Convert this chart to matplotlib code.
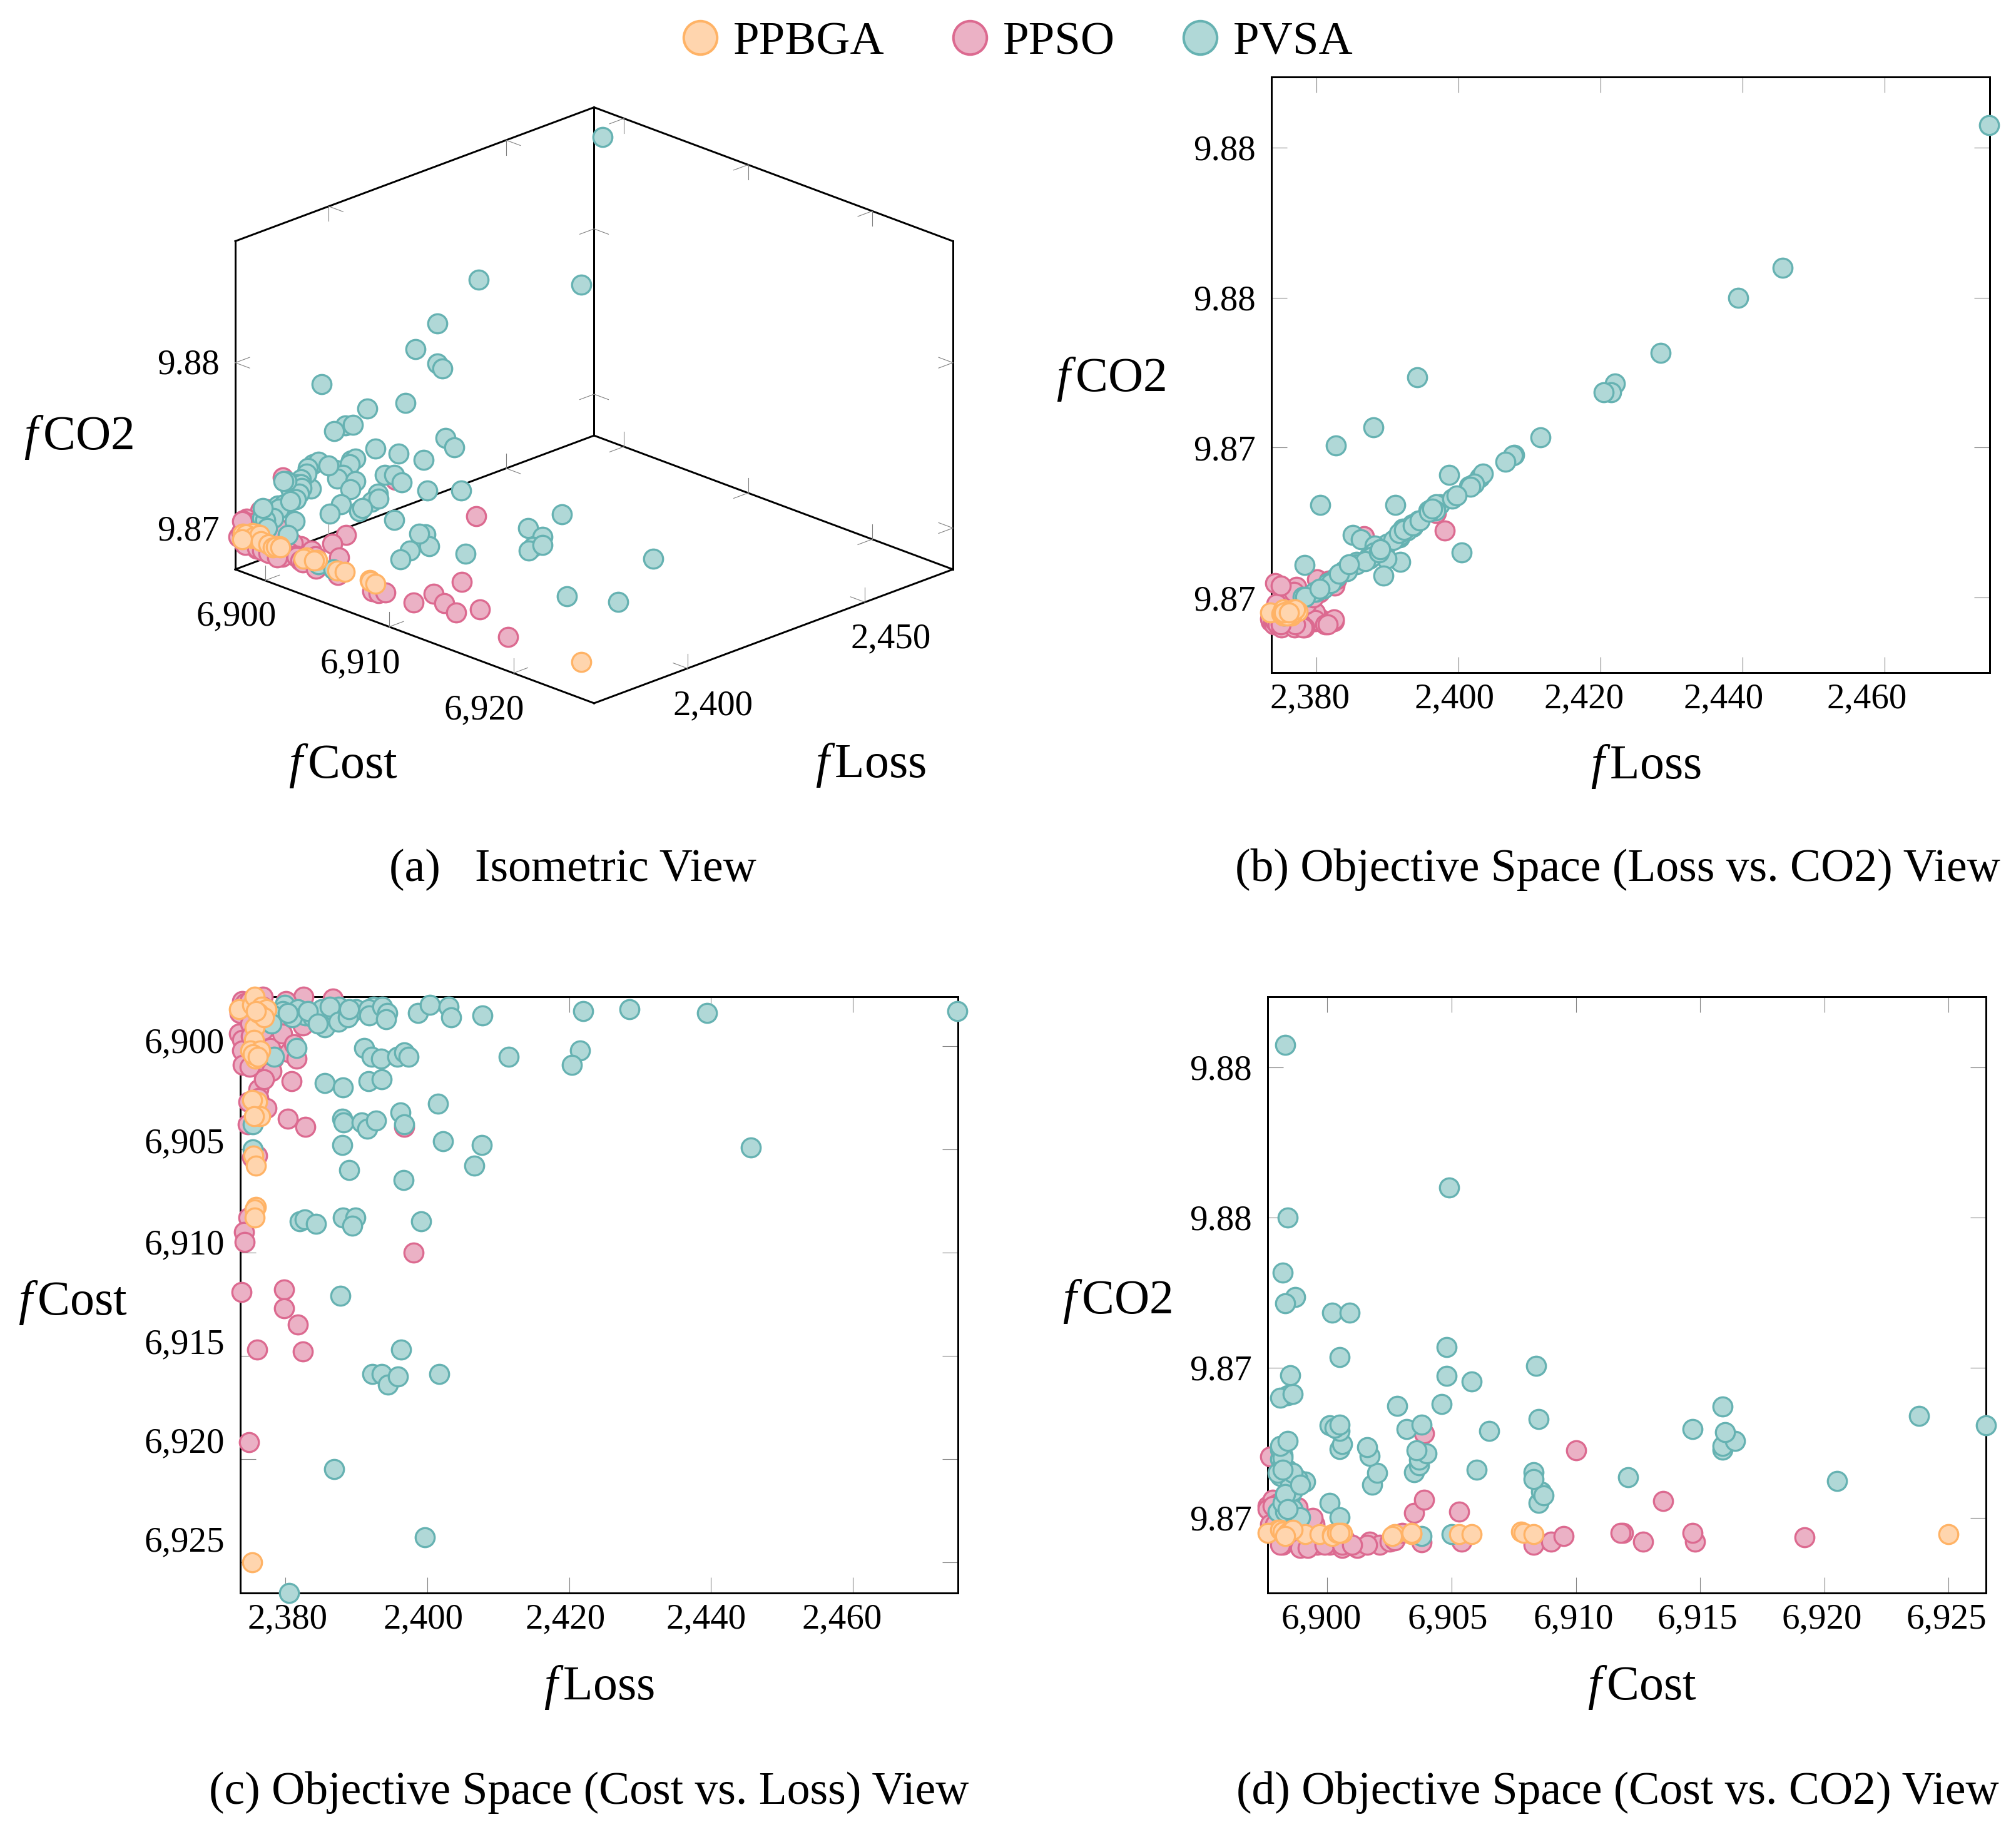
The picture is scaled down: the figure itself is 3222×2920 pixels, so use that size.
import matplotlib
matplotlib.use("Agg")
import matplotlib.pyplot as plt
from matplotlib.lines import Line2D
from matplotlib.transforms import ScaledTranslation
from mpl_toolkits.mplot3d import proj3d
import numpy as np

plt.rcParams['font.family'] = ['Liberation Serif', 'DejaVu Serif']
plt.rcParams['mathtext.fontset'] = 'custom'
plt.rcParams['mathtext.rm'] = 'Liberation Serif'
plt.rcParams['mathtext.it'] = 'Liberation Serif:italic'

# Data: (loss, cost, co2)
pvsa_loss = [2379.9,2379.7,2381.8,2382.8,2381.0,2383.9,2385.1,2387.5,2386.3,2385.6,2387.5,2389.3,2390.0,2392.4,2391.7,2391.8,2393.7,2394.4,2394.2,2378.3,2378.1,
             2398.7,2400.4,2403.0,2403.4,2407.8,2411.5,2391.1,2392.2,2393.5,2395.8,2396.8,2397.4,2381.6,2378.4,2385.6,2388.1,2391.7,2393.6,2401.5,
             2388.0,2388.2,2390.8,2391.6,2392.8,2396.2,2396.8,2375.4,2375.4,2388.0,2402.2,2407.7,2406.6,2389.0,2396.7,2382.0,2382.7,2384.3,2388.1,2389.9,2389.4,2399.1,
             2392.3,2393.6,2394.5,2395.9,2396.3,2401.7,2387.8,2386.9,2399.7,2380.5,2445.6,2439.4,2428.5,2422.0,2421.5,2420.4,2474.7,
             2383.2,2388.8,2384.6,2380.4,2389.0]
pvsa_cost = [6898.0,6898.3,6898.2,6898.5,6898.6,6898.6,6898.2,6898.1,6898.1,6899.1,6898.8,6898.4,6898.2,6898.1,6898.2,6898.5,6898.1,6898.4,6898.7,6898.5,6898.9,
             6898.4,6898.0,6898.1,6898.6,6898.5,6900.5,6900.1,6900.5,6900.6,6900.5,6900.3,6900.5,6900.1,6900.5,6901.8,6902.0,6901.7,6901.6,6902.8,
             6903.5,6903.7,6903.7,6904.0,6903.6,6903.2,6903.8,6903.8,6905.0,6904.8,6904.6,6904.8,6905.8,6906.0,6906.5,6908.5,6908.4,6908.6,6908.3,6908.3,6908.7,6908.5,
             6915.9,6915.9,6916.4,6916.0,6914.7,6915.9,6912.1,6920.5,6923.8,6926.5,6904.9,6898.4,6898.2,6898.3,6900.2,6900.9,6898.3,
             6898.3,6898.6,6898.9,6898.4,6898.2]
pvsa_co2 = [9.8702,9.8702,9.8705,9.8707,9.8703,9.8709,9.87208,9.8714,9.87195,9.8712,9.8713,9.8716,9.8718,9.87226,9.8720,9.8712,9.8724,9.87256,9.87735,9.87108,9.87002,
            9.87408,9.8715,9.8740,9.87413,9.87475,9.87535,9.87308,9.8723,9.87245,9.8729,9.8730,9.8731,9.87049,9.87002,9.8711,9.8715,9.87206,9.87236,9.87372,
            9.87153,9.87174,9.87193,9.87214,9.87224,9.87296,9.8731,9.8694,9.86945,9.87568,9.8738,9.87473,9.87453,9.87161,9.8729,9.87049,9.87507,9.87088,9.87151,9.8713,9.87074,9.8733,
            9.87226,9.8724,9.87256,9.87285,9.87296,9.8737,9.87136,9.87122,9.8734,9.87308,9.8810,9.8800,9.87816,9.87714,9.87684,9.87684,9.88575,
            9.8708,9.8715,9.8711,9.8703,9.8716]

ppso_loss = [2382.6,2380.1,2386.7,2373.9,2376.8,2375.5,2373.6,2379.2,2373.5,2373.9,2376.5,2373.9,2374.0,2380.5,2380.9,2376.2,2376.2,2374.8,2377.4,2374.7,2380.4,2382.8,2396.8,
             2375.3,2376.0,2374.8,2374.2,2374.3,2398.1,2373.8,2379.8,2379.8,2381.8,2382.5,2376.0,2374.9,2374.2,2377.2,2375.8,2379.8,2382.5,
             2374.5,2375.1,2376.9,2377.9,2378.3,2375.2,2376.1,2374.4,2377.4,2378.6,2379.6,2381.2,2381.6,2378.1,2377.0,2375.0,2376.8,2375.0]
ppso_cost = [6897.6,6897.8,6897.7,6897.8,6897.6,6897.7,6898.4,6899.0,6899.4,6899.7,6899.6,6900.2,6900.9,6900.3,6901.7,6902.1,6902.5,6902.7,6903.0,6903.8,6903.5,6903.9,6903.9,
             6905.4,6905.3,6908.3,6909.0,6909.5,6910.0,6911.9,6911.8,6912.7,6913.5,6914.8,6914.7,6919.2,6898.0,6898.8,6898.2,6898.5,6899.0,
             6898.1,6898.9,6899.2,6900.1,6900.6,6899.5,6900.7,6897.9,6898.3,6898.9,6899.4,6899.9,6900.6,6901.2,6901.6,6901.0,6898.1,6897.8]
ppso_co2 = [9.8704,9.8706,9.87205,9.8695,9.8703,9.8698,9.8692,9.8695,9.8693,9.8692,9.8691,9.8692,9.8691,9.8693,9.8692,9.8691,9.8692,9.86925,9.8695,9.86918,9.87016,9.87061,9.87282,
            9.8692,9.8702,9.8691,9.8692,9.8694,9.87224,9.8695,9.8695,9.8692,9.87056,9.8692,9.8695,9.86935,9.87048,9.87035,9.8691,9.86926,9.86928,
            9.8691,9.8690,9.8690,9.8691,9.8690,9.8698,9.8693,9.8698,9.8696,9.8698,9.8700,9.8691,9.8691,9.8690,9.8691,9.8691,9.8702,9.8704]

ppbga_loss = [2373.5,2375.3,2375.7,2376.7,2377.4,2375.7,2375.6,2375.1,2376.5,2375.8,2376.0,2375.3,2376.5,2375.6,2375.5,2375.9,2375.9,2375.7,2375.7,2375.3,
              2376.2,2377.0,2375.9,2375.4,2376.1]
ppbga_cost = [6898.2,6898.0,6897.6,6898.1,6898.2,6899.1,6899.7,6900.2,6900.2,6900.6,6902.7,6902.6,6903.4,6903.4,6905.3,6905.8,6907.8,6907.9,6908.3,6925.0,
              6898.4,6898.6,6898.3,6900.4,6900.5]
ppbga_co2 = [9.8695,9.8696,9.8695,9.8696,9.86954,9.86945,9.86945,9.86945,9.8694,9.8695,9.86945,9.8694,9.86945,9.8695,9.86945,9.86945,9.86955,9.8695,9.86945,9.86945,
             9.8695,9.8696,9.8694,9.8695,9.8695]

series_names = ['PPSO', 'PVSA', 'PPBGA']
series_loss = [ppso_loss, pvsa_loss, ppbga_loss]
series_cost = [ppso_cost, pvsa_cost, ppbga_cost]
series_co2 = [ppso_co2, pvsa_co2, ppbga_co2]
face = {'PPBGA': '#FFD5AE', 'PPSO': '#EBB1C5', 'PVSA': '#B0D8D7'}
edge = {'PPBGA': '#FFB366', 'PPSO': '#DC6A90', 'PVSA': '#66B2B2'}

loss_lim = (2373.66, 2474.8)
cost_lim = (6897.6, 6926.5)
co2_lim = (9.8675, 9.88735)
loss_ticks = [2380, 2400, 2420, 2440, 2460]
loss_labels = ['2,380', '2,400', '2,420', '2,440', '2,460']
cost_ticks = [6900, 6905, 6910, 6915, 6920, 6925]
cost_labels = ['6,900', '6,905', '6,910', '6,915', '6,920', '6,925']
co2_ticks = [9.87, 9.875, 9.88, 9.885]
co2_labels = ['9.87', '9.87', '9.88', '9.88']

W, H, DPI = 3222, 2920, 100
fig = plt.figure(figsize=(W / DPI, H / DPI), dpi=DPI)
TICK_FS, LABEL_FS, CAP_FS = 41, 56, 53
S, LW = 480, 2.4


def axes_px(x0, y0, x1, y1, **kw):
    return fig.add_axes([x0 / W, 1 - y1 / H, (x1 - x0) / W, (y1 - y0) / H], **kw)


def ftext(x, y, s, size, **kw):
    fig.text(x / W, 1 - y / H, s, fontsize=size, ha='center', va='center', **kw)


def nudge(labels, dx=None, dy=None):
    for i, lab in enumerate(labels):
        ox = dx[i] if dx else 0
        oy = dy[i] if dy else 0
        lab.set_transform(lab.get_transform() + ScaledTranslation(ox / DPI, -oy / DPI, fig.dpi_scale_trans))


def panel(rect, xs, ys, xlim, ylim, xt, xl, yt, yl, invert=False):
    ax = axes_px(*rect)
    for name, x, y in zip(series_names, xs, ys):
        ax.scatter(x, y, s=S, facecolor=face[name], edgecolor=edge[name], linewidth=LW,
                   clip_on=False, zorder=3 + series_names.index(name))
    ax.set_xlim(*xlim)
    ax.set_ylim(*(ylim[::-1] if invert else ylim))
    ax.set_xticks(xt, xl)
    ax.set_yticks(yt, yl)
    ax.tick_params(axis='both', direction='in', length=18, width=0.8, color='#808080',
                   top=True, right=True, labelsize=TICK_FS)
    ax.tick_params(axis='x', pad=12)
    ax.tick_params(axis='y', pad=18)
    for sp in ax.spines.values():
        sp.set_linewidth(2.16)
    return ax


ax_b = panel((2032, 123, 3180, 1075), series_loss, series_co2, loss_lim, co2_lim, loss_ticks, loss_labels, co2_ticks, co2_labels)
nudge(ax_b.get_xticklabels(), dx=[-10, -6, -26, -30, -28])
ax_c = panel((384, 1593, 1531, 2546), series_loss, series_cost, loss_lim, cost_lim, loss_ticks, loss_labels, cost_ticks, cost_labels, invert=True)
nudge(ax_c.get_xticklabels(), dx=[4, -6, -6, -8, -18])
nudge(ax_c.get_yticklabels(), dy=[-10, -15, -18, -23, -30, -37])
ax_d = panel((2026, 1593, 3174, 2546), series_cost, series_co2, cost_lim, co2_lim, cost_ticks, cost_labels, co2_ticks, co2_labels)
nudge(ax_d.get_xticklabels(), dx=[-10, -6, -4, -4, -4, -4])

# Panel (a): isometric view
ax_a = fig.add_axes([0.05, 0.6, 0.4, 0.4], projection='3d', proj_type='ortho', computed_zorder=False)
ax_a.view_init(elev=21.9, azim=-45, roll=0)
ax_a.set_box_aspect((812, 812, 566))
ax_a.set_axis_off()
ax_a.patch.set_alpha(0)
ax_a.set_xlim(*cost_lim)
ax_a.set_ylim(*loss_lim)
ax_a.set_zlim(*co2_lim)


def box_pt(c, l, z):
    return (cost_lim[0] + c * (cost_lim[1] - cost_lim[0]),
            loss_lim[0] + l * (loss_lim[1] - loss_lim[0]),
            co2_lim[0] + z * (co2_lim[1] - co2_lim[0]))


edges = [((0, 0, 0), (0, 0, 1)), ((0, 1, 0), (0, 1, 1)), ((1, 1, 0), (1, 1, 1)),
         ((0, 0, 0), (1, 0, 0)), ((1, 0, 0), (1, 1, 0)), ((0, 1, 0), (1, 1, 0)), ((0, 0, 0), (0, 1, 0)),
         ((0, 0, 1), (0, 1, 1)), ((0, 1, 1), (1, 1, 1))]
for p, q in edges:
    P, Q = box_pt(*p), box_pt(*q)
    ax_a.plot(*zip(P, Q), color='black', lw=2.16, zorder=1, solid_capstyle='projecting')


def tick3(pos, d1, d2):
    base = np.array(box_pt(*pos))
    for d in (d1, d2):
        end = np.array(box_pt(*(np.array(pos) + np.array(d))))
        ax_a.plot(*zip(base, end), color='#808080', lw=0.8, zorder=2)


tl, tz = 0.04, 0.045


def norm(v, lim):
    return (v - lim[0]) / (lim[1] - lim[0])


for v in [6900, 6910, 6920]:
    c = norm(v, cost_lim)
    tick3((c, 0, 0), (0, tl, 0), (0, 0, tz))
    tick3((c, 1, 0), (0, -tl, 0), (0, 0, tz))
    tick3((c, 1, 1), (0, -tl, 0), (0, 0, -tz))
for v in [2400, 2450]:
    l = norm(v, loss_lim)
    tick3((1, l, 0), (-tl, 0, 0), (0, 0, tz))
    tick3((0, l, 0), (tl, 0, 0), (0, 0, tz))
    tick3((0, l, 1), (tl, 0, 0), (0, 0, -tz))
for v in [9.87, 9.88]:
    z = norm(v, co2_lim)
    tick3((0, 0, z), (tl, 0, 0), (0, tl, 0))
    tick3((0, 1, z), (tl, 0, 0), (0, -tl, 0))
    tick3((1, 1, z), (-tl, 0, 0), (0, -tl, 0))

for name, l, c, z in zip(series_names, series_loss, series_cost, series_co2):
    ax_a.scatter(c, l, z, s=S, facecolor=face[name], edgecolor=edge[name], linewidth=LW,
                 depthshade=False, clip_on=False, zorder=3 + series_names.index(name))


def disp(p):
    X, Y, _ = proj3d.proj_transform(*box_pt(*p), ax_a.get_proj())
    return ax_a.transData.transform((X, Y))


# Fit the 3D box to its place in the figure: left corner and right corner
target_l = np.array([376, H - 910.0])
target_r = np.array([1523, H - 910.0])
for _ in range(4):
    fig.canvas.draw()
    L, R = disp((0, 0, 0)), disp((1, 1, 0))
    pos = ax_a.get_position()
    scale = (target_r[0] - target_l[0]) / (R[0] - L[0])
    w, h = pos.width * scale, pos.height * scale
    cx, cy = pos.x0 + pos.width / 2, pos.y0 + pos.height / 2
    ax_a.set_position([cx - w / 2, cy - h / 2, w, h])
    fig.canvas.draw()
    L = disp((0, 0, 0))
    pos = ax_a.get_position()
    ax_a.set_position([pos.x0 + (target_l[0] - L[0]) / W, pos.y0 + (target_l[1] - L[1]) / H, pos.width, pos.height])

for s, x, y in [('6,900', 378, 985), ('6,910', 576, 1061), ('6,920', 774, 1135),
                ('2,400', 1140, 1128), ('2,450', 1424, 1021), ('9.88', 301, 584), ('9.87', 301, 849)]:
    ftext(x, y, s, TICK_FS)

# Axis labels
FL = r'$f\,$'
ftext(549, 1224, FL + 'Cost', LABEL_FS)
ftext(1392, 1223, FL + 'Loss', LABEL_FS)
ftext(126, 699, FL + 'CO2', LABEL_FS)
ftext(2631, 1225, FL + 'Loss', LABEL_FS)
ftext(1776, 606, FL + 'CO2', LABEL_FS)
ftext(958, 2697, FL + 'Loss', LABEL_FS)
ftext(117, 2082, FL + 'Cost', LABEL_FS)
ftext(2625, 2697, FL + 'Cost', LABEL_FS)
ftext(1786, 2080, FL + 'CO2', LABEL_FS)

# Captions
ftext(915, 1390, '(a)   Isometric View', CAP_FS)
ftext(2585, 1390, '(b) Objective Space (Loss vs. CO2) View', CAP_FS)
ftext(941, 2865, '(c) Objective Space (Cost vs. Loss) View', CAP_FS)
ftext(2585, 2865, '(d) Objective Space (Cost vs. CO2) View', CAP_FS)

# Legend
handles = [Line2D([], [], ls='none', marker='o', ms=38.5, mew=2.9, mfc=face[n], mec=edge[n], label=n)
           for n in ['PPBGA', 'PPSO', 'PVSA']]
fig.legend(handles=handles, loc='center', bbox_to_anchor=(1622 / W, 1 - 68 / H), ncol=3, frameon=False,
           fontsize=54, handletextpad=0.2, columnspacing=1.32, handlelength=1.0, borderpad=0)

fig.savefig('out.png', dpi=DPI)
